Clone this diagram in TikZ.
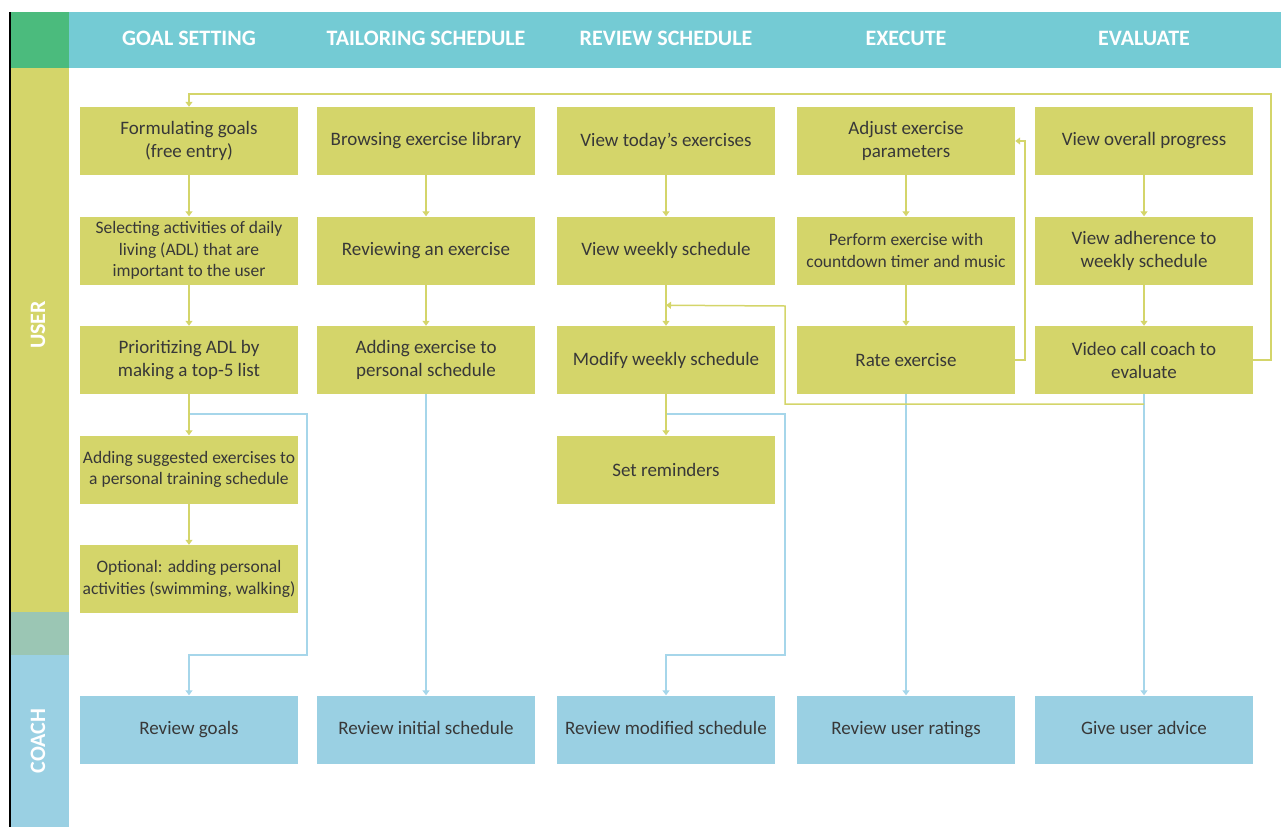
\documentclass[tikz,border=0pt]{standalone}
\usepackage{fontspec}
\setmainfont{Carlito}
\usetikzlibrary{arrows.meta,calc}
\definecolor{hdrcyan}{HTML}{74CBD4}
\definecolor{cornergreen}{HTML}{4BBB7D}
\definecolor{userylw}{HTML}{D4D56A}
\definecolor{gapgreen}{HTML}{9BC6B4}
\definecolor{coachblue}{HTML}{9AD0E3}
\definecolor{lineblue}{HTML}{A6D6EA}
\definecolor{txtgrey}{HTML}{383838}
\tikzset{
  userbox/.style={fill=userylw,text=txtgrey,minimum width=218,minimum height=68,
    align=center,inner sep=2pt,font=\fontsize{19}{23}\selectfont},
  smallbox/.style={userbox,font=\fontsize{17.5}{21.5}\selectfont},
  coachbox/.style={userbox,fill=coachblue,text height=13,text depth=3},
  phase/.style={text=white,font=\bfseries\fontsize{22}{24}\selectfont},
  lane/.style={text=white,rotate=90,font=\bfseries\fontsize{22}{24}\selectfont},
  uflow/.style={draw=userylw,line width=1.5,-{Triangle[width=7,length=5]}},
  cflow/.style={draw=lineblue,line width=1.5,-{Triangle[width=7,length=5]}}
}
\begin{document}
\begin{tikzpicture}[x=1pt,y=-1pt]
  \useasboundingbox (0,0) rectangle (1281,827);
  % lanes and header
  \fill[hdrcyan] (69,12) rectangle (1281,68);
  \fill[cornergreen] (10,12) rectangle (69,68);
  \fill[userylw] (10,68) rectangle (69,612);
  \fill[gapgreen] (10,612) rectangle (69,655);
  \fill[coachblue] (10,655) rectangle (69,827);
  \draw[line width=1.2] (10,12) -- (10,827);
  \node[lane] (luser) at (38,325) {USER};
  \node[lane] (lcoach) at (38,741) {COACH};
  \node[phase] (hgoal) at (189,38) {GOAL SETTING};
  \node[phase] (htailor) at (426,38) {TAILORING SCHEDULE};
  \node[phase] (hreview) at (666,38) {REVIEW SCHEDULE};
  \node[phase] (hexec) at (906,38) {EXECUTE};
  \node[phase] (heval) at (1144,38) {EVALUATE};
  % goal setting
  \node[userbox] (goals) at (189,141) {Formulating goals\\(free entry)};
  \node[smallbox] (adl) at (189,250.5) {Selecting activities of daily\\living (ADL) that are\\important to the user};
  \node[userbox] (prio) at (189,360) {Prioritizing ADL by\\making a top-5 list};
  \node[smallbox] (sugg) at (189,469.5) {Adding suggested exercises to\\a personal training schedule};
  \node[smallbox] (optional) at (189,579) {Optional: adding personal\\activities (swimming, walking)};
  % tailoring
  \node[userbox] (browse) at (426,141) {Browsing exercise library};
  \node[userbox] (reviewex) at (426,250.5) {Reviewing an exercise};
  \node[userbox] (addex) at (426,360) {Adding exercise to\\personal schedule};
  % review schedule
  \node[userbox] (today) at (666,141) {View today’s exercises};
  \node[userbox] (weekly) at (666,250.5) {View weekly schedule};
  \node[userbox] (modify) at (666,360) {Modify weekly schedule};
  \node[userbox] (remind) at (666,469.5) {Set reminders};
  % execute
  \node[userbox] (adjust) at (906,141) {Adjust exercise\\parameters};
  \node[smallbox] (perform) at (906,250.5) {Perform exercise with\\countdown timer and music};
  \node[userbox] (rate) at (906,360) {Rate exercise};
  % evaluate
  \node[userbox] (overall) at (1144,141) {View overall progress};
  \node[userbox] (adher) at (1144,250.5) {View adherence to\\weekly schedule};
  \node[userbox] (video) at (1144,360) {Video call coach to\\evaluate};
  % coach
  \node[coachbox] (rgoals) at (189,729.5) {Review goals};
  \node[coachbox] (rinit) at (426,729.5) {Review initial schedule};
  \node[coachbox] (rmod) at (666,729.5) {Review modified schedule};
  \node[coachbox] (rrate) at (906,729.5) {Review user ratings};
  \node[coachbox] (advice) at (1144,729.5) {Give user advice};
  % split points
  \coordinate (prioSplit) at ([yshift=-20pt]prio.south);
  \coordinate (modSplit) at ([yshift=-20pt]modify.south);
  \coordinate (videoSplit) at ([yshift=-10pt]video.south);
  \coordinate (weekMid) at ($(weekly.south)!0.5!(modify.north)$);
  % coach flows
  \draw[cflow] (prioSplit) -| (307,655) -| (rgoals.north);
  \draw[cflow] (addex) -- (rinit);
  \draw[cflow] (modSplit) -| (785,655) -| (rmod.north);
  \draw[cflow] (rate) -- (rrate);
  \draw[cflow] (video) -- (advice);
  % user flows
  \foreach \a/\b in {goals/adl,adl/prio,prio/sugg,sugg/optional,
    browse/reviewex,reviewex/addex,today/weekly,weekly/modify,modify/remind,
    adjust/perform,perform/rate,overall/adher,adher/video}
    \draw[uflow] (\a) -- (\b);
  \draw[uflow] (video.east) -| (1271,94) -| (goals.north);
  \draw[uflow] (rate.east) -| ([xshift=10pt]adjust.east) -- (adjust.east);
  \draw[uflow] (videoSplit) -| (785,306) -- (weekMid);
\end{tikzpicture}
\end{document}
